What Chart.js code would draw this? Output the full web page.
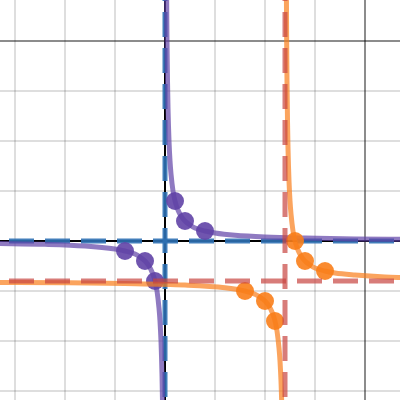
<!DOCTYPE html>
<html>
<head>
<meta charset="utf-8">
<script src="https://cdn.jsdelivr.net/npm/chart.js@4"></script>
<style>
  html, body { margin: 0; padding: 0; background: #fff; }
  #wrap { width: 400px; height: 400px; }
</style>
</head>
<body>
<div id="wrap"><canvas id="c"></canvas></div>
<script>
// grid ticks (minor every 0.5, major every 2)
const xTicks = [-1.5, -1, -0.5, 0, 0.5, 1, 1.5, 2];
const yTicks = [-1.5, -1, -0.5, 0, 0.5, 1, 1.5, 2];

// purple curve, two branches
const purpleRightX = [0.016, 0.018, 0.02, 0.025, 0.03, 0.04, 0.05, 0.06, 0.08, 0.1, 0.13, 0.16, 0.2, 0.25, 0.3, 0.4, 0.5, 0.7, 1.0, 1.4, 1.9, 2.4];
const purpleRightY = [2.5, 2.22, 2.0, 1.6, 1.33, 1.0, 0.8, 0.67, 0.5, 0.4, 0.31, 0.25, 0.2, 0.16, 0.13, 0.1, 0.08, 0.057, 0.04, 0.029, 0.021, 0.017];
const purpleLeftX = [-1.7, -1.2, -0.8, -0.5, -0.4, -0.3, -0.25, -0.2, -0.16, -0.13, -0.1, -0.08, -0.06, -0.05, -0.04, -0.03, -0.025, -0.022];
const purpleLeftY = [-0.024, -0.033, -0.05, -0.08, -0.1, -0.13, -0.16, -0.2, -0.25, -0.31, -0.4, -0.5, -0.67, -0.8, -1.0, -1.33, -1.6, -1.82];

// orange curve, two branches
const orangeRightX = [1.213, 1.216, 1.218, 1.22, 1.225, 1.23, 1.24, 1.25, 1.26, 1.28, 1.3, 1.33, 1.36, 1.4, 1.45, 1.5, 1.6, 1.7, 1.9, 2.2, 2.4];
const orangeRightY = [2.68, 2.1, 1.82, 1.6, 1.2, 0.93, 0.6, 0.4, 0.27, 0.1, 0.0, -0.09, -0.15, -0.2, -0.24, -0.27, -0.3, -0.32, -0.34, -0.36, -0.367];
const orangeLeftX = [-1.7, -1.0, -0.4, 0.2, 0.6, 0.8, 0.9, 0.95, 1.0, 1.04, 1.07, 1.1, 1.12, 1.14, 1.15, 1.16, 1.17, 1.175];
const orangeLeftY = [-0.414, -0.418, -0.425, -0.44, -0.467, -0.5, -0.533, -0.56, -0.6, -0.65, -0.71, -0.8, -0.9, -1.07, -1.2, -1.4, -1.73, -2.0];

// marked points
const purplePtsX = [-0.4, -0.2, -0.1, 0.1, 0.2, 0.4];
const purplePtsY = [-0.1, -0.2, -0.4, 0.4, 0.2, 0.1];
const orangePtsX = [0.8, 1.0, 1.1, 1.3, 1.4, 1.6];
const orangePtsY = [-0.5, -0.6, -0.8, 0, -0.2, -0.3];

// asymptotes
const blueAsymX = 0, blueAsymY = 0;
const redAsymX = 1.2, redAsymY = -0.4;

const X_MIN = -1.65, X_MAX = 2.35, Y_MIN = -1.59, Y_MAX = 2.41;

const zip = (xs, ys) => xs.map((x, i) => ({ x, y: ys[i] }));

const curve = (xs, ys, color, order) => ({
  type: 'line',
  data: zip(xs, ys),
  borderColor: color,
  borderWidth: 5,
  pointRadius: 0,
  cubicInterpolationMode: 'monotone',
  fill: false,
  order
});

const dots = (xs, ys, color, order) => ({
  type: 'scatter',
  data: zip(xs, ys),
  backgroundColor: color,
  borderWidth: 0,
  pointRadius: 9,
  pointHoverRadius: 9,
  order
});

const dashed = (pts, color, order) => ({
  type: 'line',
  data: pts,
  borderColor: color,
  borderWidth: 5,
  borderDash: [25, 11],
  pointRadius: 0,
  tension: 0,
  fill: false,
  order
});

const BLUE = 'rgba(45,112,179,0.9)';
const RED = 'rgba(199,68,64,0.7)';
const PURPLE_LINE = 'rgba(96,66,166,0.7)';
const PURPLE_DOT = 'rgba(96,66,166,0.9)';
const ORANGE_LINE = 'rgba(250,126,25,0.7)';
const ORANGE_DOT = 'rgba(250,126,25,0.9)';

const gridColor = (ctx) => {
  const v = ctx.tick && ctx.tick.value;
  if (v === 0) return '#000';
  if (Math.abs(v % 2) < 1e-9) return 'rgba(0,0,0,0.45)';
  return 'rgba(0,0,0,0.13)';
};

const axis = (min, max, ticks) => ({
  type: 'linear',
  min, max,
  afterBuildTicks: (s) => { s.ticks = ticks.map(v => ({ value: v })); },
  ticks: { display: false },
  border: { display: false },
  grid: { color: gridColor, lineWidth: 2, drawTicks: false }
});

new Chart(document.getElementById('c'), {
  type: 'scatter',
  data: {
    datasets: [
      dashed([{ x: redAsymX, y: -3 }, { x: redAsymX, y: 3 }], RED, 1),
      dashed([{ x: -3, y: redAsymY }, { x: 3, y: redAsymY }], RED, 1),
      dots(orangePtsX, orangePtsY, ORANGE_DOT, 2),
      curve(orangeRightX, orangeRightY, ORANGE_LINE, 3),
      curve(orangeLeftX, orangeLeftY, ORANGE_LINE, 3),
      dots(purplePtsX, purplePtsY, PURPLE_DOT, 4),
      curve(purpleRightX, purpleRightY, PURPLE_LINE, 5),
      curve(purpleLeftX, purpleLeftY, PURPLE_LINE, 5),
      dashed([{ x: blueAsymX, y: -3 }, { x: blueAsymX, y: 3 }], BLUE, 6),
      dashed([{ x: -3, y: blueAsymY }, { x: 3, y: blueAsymY }], BLUE, 6)
    ]
  },
  options: {
    responsive: true,
    maintainAspectRatio: false,
    animation: false,
    layout: { padding: 0, autoPadding: false },
    plugins: { legend: { display: false }, tooltip: { enabled: false } },
    scales: {
      x: axis(X_MIN, X_MAX, xTicks),
      y: axis(Y_MIN, Y_MAX, yTicks)
    }
  }
});
</script>
</body>
</html>
